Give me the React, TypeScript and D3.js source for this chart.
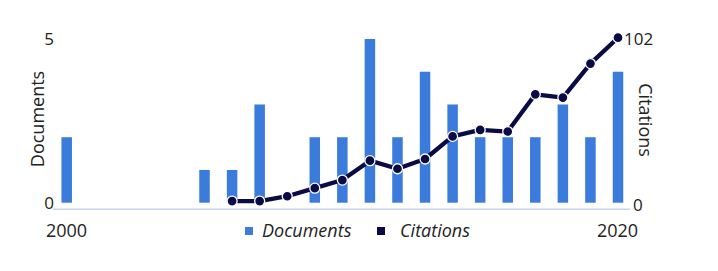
import React from "react";
import * as d3 from "d3";

const years: number[] = [2000, 2001, 2002, 2003, 2004, 2005, 2006, 2007, 2008, 2009, 2010, 2011, 2012, 2013, 2014, 2015, 2016, 2017, 2018, 2019, 2020];
const documents: number[] = [2, 0, 0, 0, 0, 1, 1, 3, 0, 2, 2, 5, 2, 4, 3, 2, 2, 2, 3, 2, 4];
const citationYears: number[] = [2006, 2007, 2008, 2009, 2010, 2011, 2012, 2013, 2014, 2015, 2016, 2017, 2018, 2019, 2020];
const citations: number[] = [1, 1, 4, 9, 14, 26, 21, 27, 41, 45, 44, 67, 65, 86, 102];
const leftTicks: number[] = [0, 5];
const rightTicks: number[] = [0, 102];
const xTickLabels: number[] = [2000, 2020];

const W = 718;
const H = 271;
const FONT = "'Open Sans', sans-serif";
const BAR = "#3b7bdc";
const LINE = "#0a0b45";

export default function App() {
  const x = d3.scaleLinear().domain([2000, 2020]).range([66.7, 618]);
  const yL = d3.scaleLinear().domain([0, 5]).range([202.7, 39]);
  const yR = d3.scaleLinear().domain([0, 102]).range([202.7, 37.7]);
  const bw = 10.5;
  const pts = citationYears.map((yr, i) => [x(yr), yR(citations[i])] as [number, number]);
  const line = d3.line<[number, number]>().x(d => d[0]).y(d => d[1]);

  return (
    <svg width={W} height={H} style={{ position: "absolute", left: 0, top: 0, background: "#fff" }}>
      {/* axis line */}
      <line x1={53} x2={630} y1={209.3} y2={209.3} stroke="#c9d6ea" strokeWidth={1.5} />
      {/* bars */}
      {years.map((yr, i) =>
        documents[i] > 0 ? (
          <rect key={yr} x={x(yr) - bw / 2} y={yL(documents[i])} width={bw} height={yL(0) - yL(documents[i])} fill={BAR} />
        ) : null
      )}
      {/* citations line */}
      <path d={line(pts) || ""} fill="none" stroke={LINE} strokeWidth={4.3} strokeLinejoin="round" />
      {pts.map((p, i) => (
        <circle key={i} cx={p[0]} cy={p[1]} r={5} fill={LINE} stroke="#fff" strokeWidth={1.3} />
      ))}
      {/* left ticks */}
      {leftTicks.map(t => (
        <text key={t} x={49} y={yL(t)} dy="0.36em" textAnchor="middle" fontFamily={FONT} fontSize={17} fill="#222">{t}</text>
      ))}
      {/* right ticks */}
      {rightTicks.map(t => (
        <text key={t} x={t === 0 ? 633 : 624} y={yR(t) + (t === 0 ? 2 : 1.5)} dy="0.36em" textAnchor="start" fontFamily={FONT} fontSize={17} fill="#222">{t}</text>
      ))}
      {/* x labels */}
      {xTickLabels.map(t => (
        <text key={t} x={t === 2000 ? 66.5 : 617.5} y={237} textAnchor="middle" fontFamily={FONT} fontSize={18} fill="#222">{t}</text>
      ))}
      {/* axis titles */}
      <text transform="translate(44,119) rotate(-90)" textAnchor="middle" fontFamily={FONT} fontSize={18} fill="#222">Documents</text>
      <text transform="translate(639,120) rotate(90)" textAnchor="middle" fontFamily={FONT} fontSize={18} fill="#222">Citations</text>
      {/* legend */}
      <rect x={245} y={227} width={8} height={8} fill={BAR} />
      <text x={262} y={237} fontFamily={FONT} fontStyle="italic" fontSize={18} fill="#222">Documents</text>
      <rect x={377} y={227} width={8} height={8} fill={LINE} />
      <text x={400} y={237} fontFamily={FONT} fontStyle="italic" fontSize={18} fill="#222">Citations</text>
    </svg>
  );
}
